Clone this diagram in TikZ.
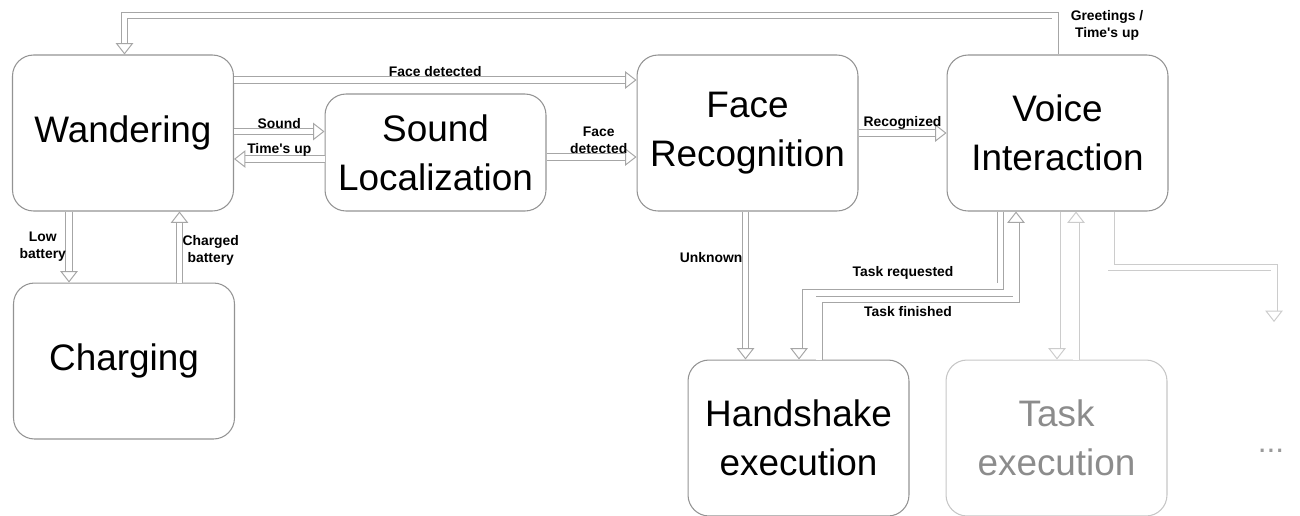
\documentclass[tikz,border=0pt]{standalone}
\usepackage{fontspec}
\setmainfont{Liberation Sans}
\usetikzlibrary{arrows.meta}

\begin{document}
\begin{tikzpicture}[
        x=0.02cm, y=-0.02cm,
        state/.style={draw=gray!85, line width=0.6pt, rounded corners=0.42cm,
            minimum width=4.42cm, minimum height=3.12cm, align=center,
            font=\fontsize{21}{28}\selectfont},
        flow/.style={draw=gray!70, line width=0.55pt, double=white, double distance=2.9pt,
            -{Triangle[fill=white, width=10pt, length=6.5pt, line width=0.55pt]}},
        faint/.style={draw=gray!40},
        lbl/.style={font=\bfseries\fontsize{7.9}{9.6}\selectfont, align=center, inner sep=1.5pt}
    ]
        \useasboundingbox (0,0) rectangle (1300,515);

        % Estados
        \node[state] (wander) at (123,133)   {Wandering};
        \node[state] (charge) at (124,361)   {Charging};
        \node[state, minimum height=2.34cm] (sound) at (435.5,152.5) {Sound\\Localization};
        \node[state] (face)   at (747.5,133) {Face\\Recognition};
        \node[state] (voice)  at (1057.5,133) {Voice\\Interaction};
        \node[state] (hand)   at (798.5,438) {Handshake\\execution};
        \node[state, draw=gray!45, text=gray!90] (task) at (1056.5,438) {Task\\execution};
        \node[text=gray!80, font=\fontsize{18}{20}\selectfont] (dots) at (1271,451) {...};
        \coordinate (more) at (1274,322);

        % Wandering y Sound Localization
        \draw[flow] (wander.east |- 0,80) -- (face.west |- 0,80)
            node[lbl, midway, above] (lface) {Face detected};
        \draw[flow] (wander.east |- 0,131.5) -- (sound.west |- 0,131.5)
            node[lbl, midway, above] (lsound) {Sound};
        \draw[flow] (sound.west |- 0,159) -- (wander.east |- 0,159)
            node[lbl, midway, above] (ltime) {Time\textquotesingle s up};
        \draw[flow] (sound.east |- 0,157) -- (face.west |- 0,157)
            node[lbl, pos=0.58, above] (lface2) {Face\\detected};

        % Carga
        \draw[flow] (wander.south -| 69,0) -- (charge.north -| 69,0)
            node[lbl, midway, left] (llow) {Low\\battery};
        \draw[flow] (charge.north -| 179.5,0) -- (wander.south -| 179.5,0)
            node[lbl, pos=0.45, right] (lcharged) {Charged\\battery};

        % Reconocimiento e interaccion
        \draw[flow] (face.east) -- (voice.west)
            node[lbl, midway, above] (lrec) {Recognized};
        \draw[flow] (voice.north -| 1055,0) -- ++(0,-39) -| (wander.north -| 124.5,0);
        \node[lbl] (lgreet) at (1107,25) {Greetings /\\Time\textquotesingle s up};
        \draw[flow] (face.south -| 745.5,0) -- (hand.north -| 745.5,0)
            node[lbl, pos=0.31, left] (lunknown) {Unknown};

        % Tareas
        \draw[flow] (voice.south -| 1000.5,0) -- ++(0,74.5) -| (hand.north -| 799,0);
        \node[lbl] (lreq) at (903,273) {Task requested};
        \draw[flow] (hand.north -| 819,0) -- ++(0,-60) -| (voice.south -| 1016,0);
        \node[lbl] (lfin) at (908,312) {Task finished};
        \draw[flow, faint] (voice.south -| 1057,0) -- (task.north -| 1057,0);
        \draw[flow, faint] (task.north -| 1076,0) -- (voice.south -| 1076,0);
        \draw[flow, faint] (voice.south -| 1111,0) -- ++(0,56) -| (more);
    \end{tikzpicture}
\end{document}
